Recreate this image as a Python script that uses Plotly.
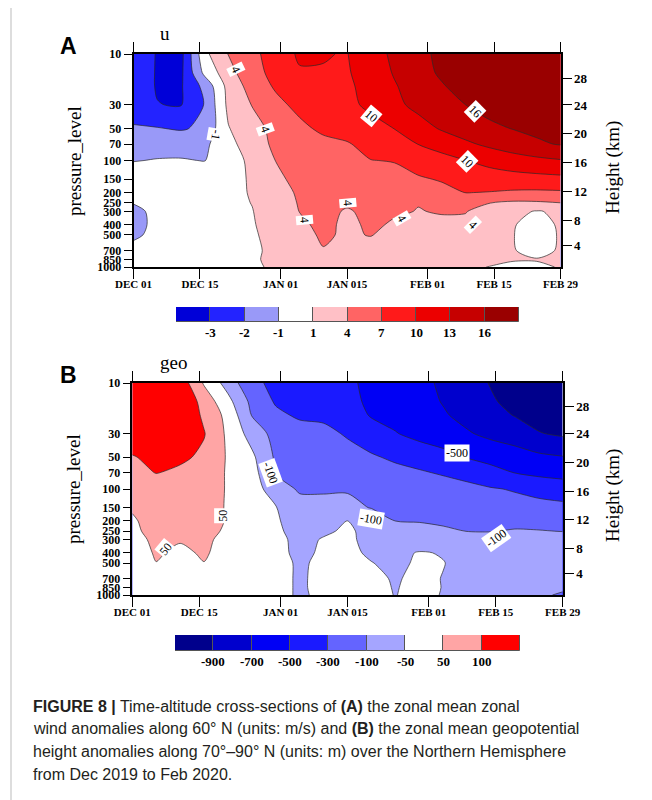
import numpy as np
import plotly.graph_objects as go

W, H = 652, 800

# ---------------- data ----------------
days = list(range(0, 91, 5))  # days since Dec 01 2019
pressure = [10, 15, 20, 30, 50, 70, 100, 150, 200, 250, 300, 400, 500, 700, 850, 1000]

# (A) zonal mean zonal wind anomaly along 60N (m/s); rows = pressure, cols = days
u_levels = [-3, -2, -1, 1, 4, 7, 10, 13, 16]
u_colors = ["#0000D8", "#2323FF", "#9999F8", "#FFFFFF", "#FFC0C6",
            "#FF6464", "#FF1A1A", "#EC0000", "#C60000", "#9A0000"]
u_anom = [
    [-2.5, -3.05, -3.3, 0.5, 4.1, 6.0, 8.8, 10.3, 10.1, 9.9, 11.9, 13.5, 15.3, 16.6, 18.0, 19.0, 19.5, 20.0, 20.0],
    [-2.6, -3.05, -3.2, -0.5, 2.8, 6.3, 7.6, 9.8, 9.9, 9.7, 11.5, 13.2, 15.0, 16.4, 17.6, 18.5, 19.0, 19.5, 19.5],
    [-2.6, -3.05, -3.1, -1.7, 2.0, 5.2, 7.4, 9.0, 9.4, 9.5, 11.0, 12.8, 14.2, 15.8, 17.0, 17.8, 18.5, 19.0, 19.0],
    [-2.5, -2.98, -3.05, -1.95, 1.7, 4.1, 6.2, 7.8, 8.5, 9.2, 10.7, 12.3, 13.8, 15.0, 16.0, 17.0, 17.6, 18.0, 18.0],
    [-1.9, -1.95, -2.1, -1.8, 0.9, 3.0, 4.8, 6.3, 7.6, 8.0, 8.8, 10.05, 11.8, 13.3, 14.4, 15.4, 16.1, 16.6, 17.0],
    [-1.15, -1.2, -1.3, -1.2, 0.4, 2.6, 4.6, 5.5, 6.2, 6.8, 7.8, 8.9, 10.05, 11.2, 12.5, 13.6, 14.6, 15.6, 16.2],
    [-1.02, -0.95, -0.9, -1.02, -0.2, 1.9, 4.05, 5.0, 5.7, 6.4, 6.95, 7.1, 8.1, 9.0, 9.95, 10.9, 11.7, 12.3, 12.8],
    [-0.4, -0.3, -0.2, 0.0, 0.2, 1.4, 3.4, 4.8, 5.4, 5.8, 6.0, 6.3, 6.7, 7.2, 7.8, 8.5, 8.8, 9.0, 9.2],
    [-0.3, -0.2, 0.1, 0.4, 0.5, 1.2, 2.8, 4.4, 4.9, 5.0, 5.2, 5.6, 5.9, 6.3, 7.05, 6.9, 6.6, 6.5, 6.6],
    [-0.9, -0.3, 0.0, 0.4, 0.6, 1.05, 2.5, 4.2, 4.6, 4.3, 4.6, 4.5, 4.05, 4.3, 4.4, 4.05, 3.5, 3.6, 3.98],
    [-1.3, -0.4, -0.1, 0.3, 0.6, 0.95, 2.2, 4.05, 4.6, 3.8, 4.5, 4.2, 3.95, 4.1, 4.1, 3.0, 1.6, 0.9, 1.4],
    [-1.4, -0.4, -0.2, 0.3, 0.6, 0.9, 1.8, 3.6, 4.5, 3.6, 4.3, 3.8, 3.6, 3.7, 3.5, 2.5, 1.1, 0.6, 1.2],
    [-1.2, -0.4, -0.2, 0.2, 0.5, 0.85, 1.6, 3.3, 4.3, 3.7, 4.1, 3.2, 3.0, 3.0, 2.8, 2.0, 1.05, 0.5, 1.15],
    [-0.3, -0.2, -0.1, 0.1, 0.4, 0.8, 1.4, 2.8, 3.9, 3.3, 3.0, 2.6, 2.4, 2.3, 2.2, 1.6, 1.1, 0.6, 1.2],
    [-0.2, -0.1, 0.0, 0.1, 0.3, 0.85, 1.4, 2.0, 2.4, 2.1, 2.0, 1.8, 1.7, 1.7, 1.6, 1.3, 1.1, 1.1, 1.2],
    [-0.2, -0.1, 0.0, 0.1, 0.2, 0.8, 1.3, 1.4, 1.5, 1.4, 1.4, 1.3, 1.3, 1.2, 1.2, 0.98, 0.8, 0.8, 1.1],
]

# (B) zonal mean geopotential height anomaly 70-90N (m)
geo_levels = [-900, -700, -500, -300, -100, -50, 50, 100]
geo_colors = ["#00008C", "#0000CD", "#0000F5", "#1A1AFF", "#6464FF",
              "#A5A5FF", "#FFFFFF", "#FFA5A5", "#FF0000"]
geo_anom = [
    [160, 170, 130, 40, -70, -260, -340, -400, -440, -470, -540, -590, -650, -730, -830, -910, -990, -1030, -1060],
    [160, 170, 150, 80, -20, -150, -320, -380, -420, -470, -520, -570, -630, -710, -800, -880, -950, -1000, -1030],
    [155, 165, 160, 90, 20, -110, -260, -330, -340, -380, -520, -560, -610, -680, -760, -830, -910, -970, -1000],
    [150, 165, 165, 103, 30, -70, -170, -220, -250, -320, -400, -490, -560, -620, -680, -750, -800, -890, -930],
    [95, 120, 110, 90, 40, -30, -130, -170, -200, -230, -280, -330, -380, -430, -510, -560, -610, -660, -690],
    [80, 102, 90, 80, 40, -10, -110, -150, -170, -190, -220, -250, -280, -320, -370, -440, -505, -550, -580],
    [55, 65, 65, 65, 45, 5, -80, -120, -115, -110, -135, -160, -185, -215, -245, -285, -315, -350, -380],
    [52, 60, 62, 62, 45, 0, -45, -85, -90, -92, -105, -130, -150, -170, -190, -210, -230, -250, -260],
    [45, 58, 60, 58, 47, 10, -45, -60, -60, -48, -80, -101, -110, -120, -130, -135, -130, -130, -135],
    [40, 58, 58, 56, 44, 0, -35, -65, -55, -40, -60, -75, -85, -95, -102, -104, -98, -99, -102],
    [30, 56, 52, 55, 35, 0, -30, -60, -45, -40, -58, -70, -75, -80, -85, -88, -85, -85, -90],
    [20, 53, 40, 53, 30, 0, -30, -58, -40, -35, -55, -60, -45, -52, -65, -70, -58, -60, -70],
    [15, 49, 35, 49, 25, 0, -25, -55, -35, -30, -48, -58, -40, -48, -60, -65, -58, -60, -68],
    [10, 20, 20, 25, 15, 0, -25, -55, -30, -25, -35, -53, -35, -51, -62, -65, -65, -68, -75],
    [10, 15, 15, 20, 10, 0, -25, -55, -30, -20, -30, -52, -30, -51, -65, -70, -70, -80, -95],
    [10, 10, 10, 15, 5, -5, -25, -55, -35, -20, -30, -51, -30, -52, -70, -75, -80, -95, -115],
]

date_days = [0, 14, 31, 45, 62, 76, 90]
date_text = ["DEC 01", "DEC 15", "JAN 01", "JAN 015", "FEB 01", "FEB 15", "FEB 29"]
p_ticks = [10, 30, 50, 70, 100, 150, 200, 250, 300, 400, 500, 700, 850, 1000]
height_km = [4, 8, 12, 16, 20, 24, 28]
height_p = [625, 362, 195, 105, 56, 30.1, 16.8]

# contour line labels: (text, day, pressure, angle)
u_labels = [("4", 21.7, 14, 64), ("-1", 17.5, 57, 100), ("4", 27.7, 51, 70),
            ("4", 36.1, 360, 85), ("4", 45.2, 250, 85), ("4", 56.5, 347, 60),
            ("4", 71.6, 401, 45), ("10", 50.1, 38.5, 40), ("16", 71.9, 34.5, 45),
            ("10", 70.2, 102, 45)]
geo_labels = [("50", 18.9, 180, -90), ("50", 7.05, 371, -50), ("-100", 29.0, 70, 70),
              ("-100", 50.0, 193, 10), ("-100", 76.1, 288, -35), ("-500", 67.9, 45.5, 0)]

# ---------------- helpers ----------------
def px(x):
    return x / W


def py(y):
    return 1 - y / H


def to_index(z, levels):
    lv = np.array(levels, float)
    ext = np.concatenate([[lv[0] - (lv[1] - lv[0])], lv, [lv[-1] + (lv[-1] - lv[-2])]])
    return np.interp(np.array(z, float), ext, np.arange(len(ext)))


def step_scale(colors):
    n = len(colors) - 1
    sc = []
    for k, c in enumerate(colors):
        lo = 0.0 if k == 0 else (k - 0.5) / n
        hi = 1.0 if k == n else (k + 0.5) / n
        sc.append([lo, c])
        sc.append([hi, c])
    return sc


SERIF = "Liberation Serif"
SANS = "Liberation Sans"

fig = go.Figure()

panels = [
    dict(z=u_anom, levels=u_levels, colors=u_colors, xa="x", ya="y", ha="y5",
         xd=(125.5, 552.5), yd=(46, 259), cxa="x3", cya="y3", cxd=(168, 511), cyd=(299, 314),
         cbl=324, labels=u_labels),
    dict(z=geo_anom, levels=geo_levels, colors=geo_colors, xa="x2", ya="y2", ha="y6",
         xd=(124.3, 554.7), yd=(375, 587), cxa="x4", cya="y4", cxd=(167, 512), cyd=(627, 643),
         cbl=653, labels=geo_labels),
]

annotations = []
for P in panels:
    n = len(P["levels"])
    fig.add_trace(go.Contour(
        x=days, y=pressure, z=to_index(P["z"], P["levels"]),
        xaxis=P["xa"], yaxis=P["ya"], autocontour=False,
        contours=dict(start=1, end=n, size=1, coloring="fill", showlines=True),
        colorscale=step_scale(P["colors"]), showscale=False,
        line=dict(color="#2a2a2a", width=0.7, smoothing=0.8), hoverinfo="skip"))
    # invisible trace for the height axis
    fig.add_trace(go.Scatter(x=[days[0]], y=[pressure[-1]], xaxis=P["xa"], yaxis=P["ha"],
                             mode="markers", marker=dict(opacity=0), hoverinfo="skip"))
    # colour bar as bars
    fig.add_trace(go.Bar(x=list(range(n + 1)), y=[1] * (n + 1), width=1,
                         marker=dict(color=P["colors"], line=dict(color="#555555", width=1)),
                         xaxis=P["cxa"], yaxis=P["cya"], hoverinfo="skip"))
    for k, lv in enumerate(P["levels"]):
        annotations.append(dict(x=k + 0.5, y=py(P["cbl"]), xref=P["cxa"], yref="paper",
                                text=str(lv), showarrow=False, xanchor="center", yanchor="middle",
                                font=dict(family=SERIF, size=13, color="black", weight="bold")))
    for txt, d, p, ang in P["labels"]:
        annotations.append(dict(x=d, y=np.log10(p), xref=P["xa"], yref=P["ya"], text=txt,
                                textangle=ang, showarrow=False, bgcolor="white", borderpad=1,
                                xanchor="center", yanchor="middle",
                                font=dict(family=SERIF, size=12, color="black")))

tickfont_x = dict(family=SERIF, size=11, color="black", weight="bold")
tickfont_y = dict(family=SERIF, size=12, color="black", weight="bold")
tickfont_h = dict(family=SERIF, size=13, color="black", weight="bold")

layout = dict(template="none", width=W, height=H,
              margin=dict(l=0, r=0, t=0, b=0, pad=0, autoexpand=False),
              paper_bgcolor="white", plot_bgcolor="white", showlegend=False, bargap=0)

for i, P in enumerate(panels):
    xk = "xaxis" if i == 0 else "xaxis2"
    yk = "yaxis" if i == 0 else "yaxis2"
    hk = "yaxis5" if i == 0 else "yaxis6"
    ck = "xaxis3" if i == 0 else "xaxis4"
    cyk = "yaxis3" if i == 0 else "yaxis4"
    layout[xk] = dict(domain=[px(P["xd"][0]), px(P["xd"][1])], anchor=P["ya"], range=[0, 90],
                      tickmode="array", tickvals=date_days, ticktext=date_text,
                      ticks="outside", ticklen=10, tickwidth=1.2, tickcolor="black",
                      ticklabelstandoff=-4,
                      showline=True, linewidth=1.5, linecolor="black", mirror="ticks",
                      showgrid=False, zeroline=False, tickfont=tickfont_x, automargin=False)
    layout[yk] = dict(domain=[py(P["yd"][1]), py(P["yd"][0])], anchor=P["xa"], type="log",
                      range=[3, 1], tickmode="array", tickvals=p_ticks,
                      ticktext=[str(v) for v in p_ticks], ticks="outside", ticklen=8,
                      tickwidth=1.2, tickcolor="black", showline=True, linewidth=1.5,
                      linecolor="black", mirror=True, showgrid=False, zeroline=False,
                      tickfont=tickfont_y, automargin=False)
    layout[hk] = dict(overlaying=P["ya"], anchor=P["xa"], side="right", type="log", range=[3, 1],
                      tickmode="array", tickvals=height_p, ticktext=[str(h) for h in height_km],
                      ticks="outside", ticklen=10, tickwidth=1.2, tickcolor="black",
                      showline=False, showgrid=False, zeroline=False, tickfont=tickfont_h,
                      automargin=False)
    n = len(P["levels"])
    layout[ck] = dict(domain=[px(P["cxd"][0]), px(P["cxd"][1])], anchor=P["cya"],
                      range=[-0.5, n + 0.5], showticklabels=False, ticks="", showline=False,
                      showgrid=False, zeroline=False, automargin=False)
    layout[cyk] = dict(domain=[py(P["cyd"][1]), py(P["cyd"][0])], anchor=P["cxa"],
                       range=[0, 1], visible=False, automargin=False)


def paper_text(text, x, y, size, family, angle=0, color="black", xanchor="center"):
    annotations.append(dict(x=px(x), y=py(y), xref="paper", yref="paper", text=text,
                            textangle=angle, showarrow=False, xanchor=xanchor, yanchor="middle",
                            font=dict(family=family, size=size, color=color)))


paper_text("<b>A</b>", 60.5, 38, 23, SANS)
paper_text("<b>B</b>", 60.5, 367, 23, SANS)
paper_text("u", 156.7, 25, 19, SERIF)
paper_text("geo", 165, 354, 19, SERIF)
for yc in [153, 481]:
    paper_text("pressure_level", 66, yc, 19, SERIF, angle=-90)
    paper_text("Height (km)", 605, yc + 7, 19, SERIF, angle=-90)

caption = [
    "<b>FIGURE 8 |</b> Time-altitude cross-sections of <b>(A)</b> the zonal mean zonal",
    "wind anomalies along 60° N (units: m/s) and <b>(B)</b> the zonal mean geopotential",
    "height anomalies along 70°–90° N (units: m) over the Northern Hemisphere",
    "from Dec 2019 to Feb 2020.",
]
for i, line in enumerate(caption):
    paper_text(line, 23, 698 + 22.7 * i, 16, SANS, color="#231F20", xanchor="left")

layout["annotations"] = annotations
layout["shapes"] = [dict(type="line", xref="paper", yref="paper", x0=px(3), x1=px(3), y0=0, y1=1,
                         line=dict(color="#BBBBBB", width=1))]
fig.update_layout(**layout)
fig.write_html("out.html")
